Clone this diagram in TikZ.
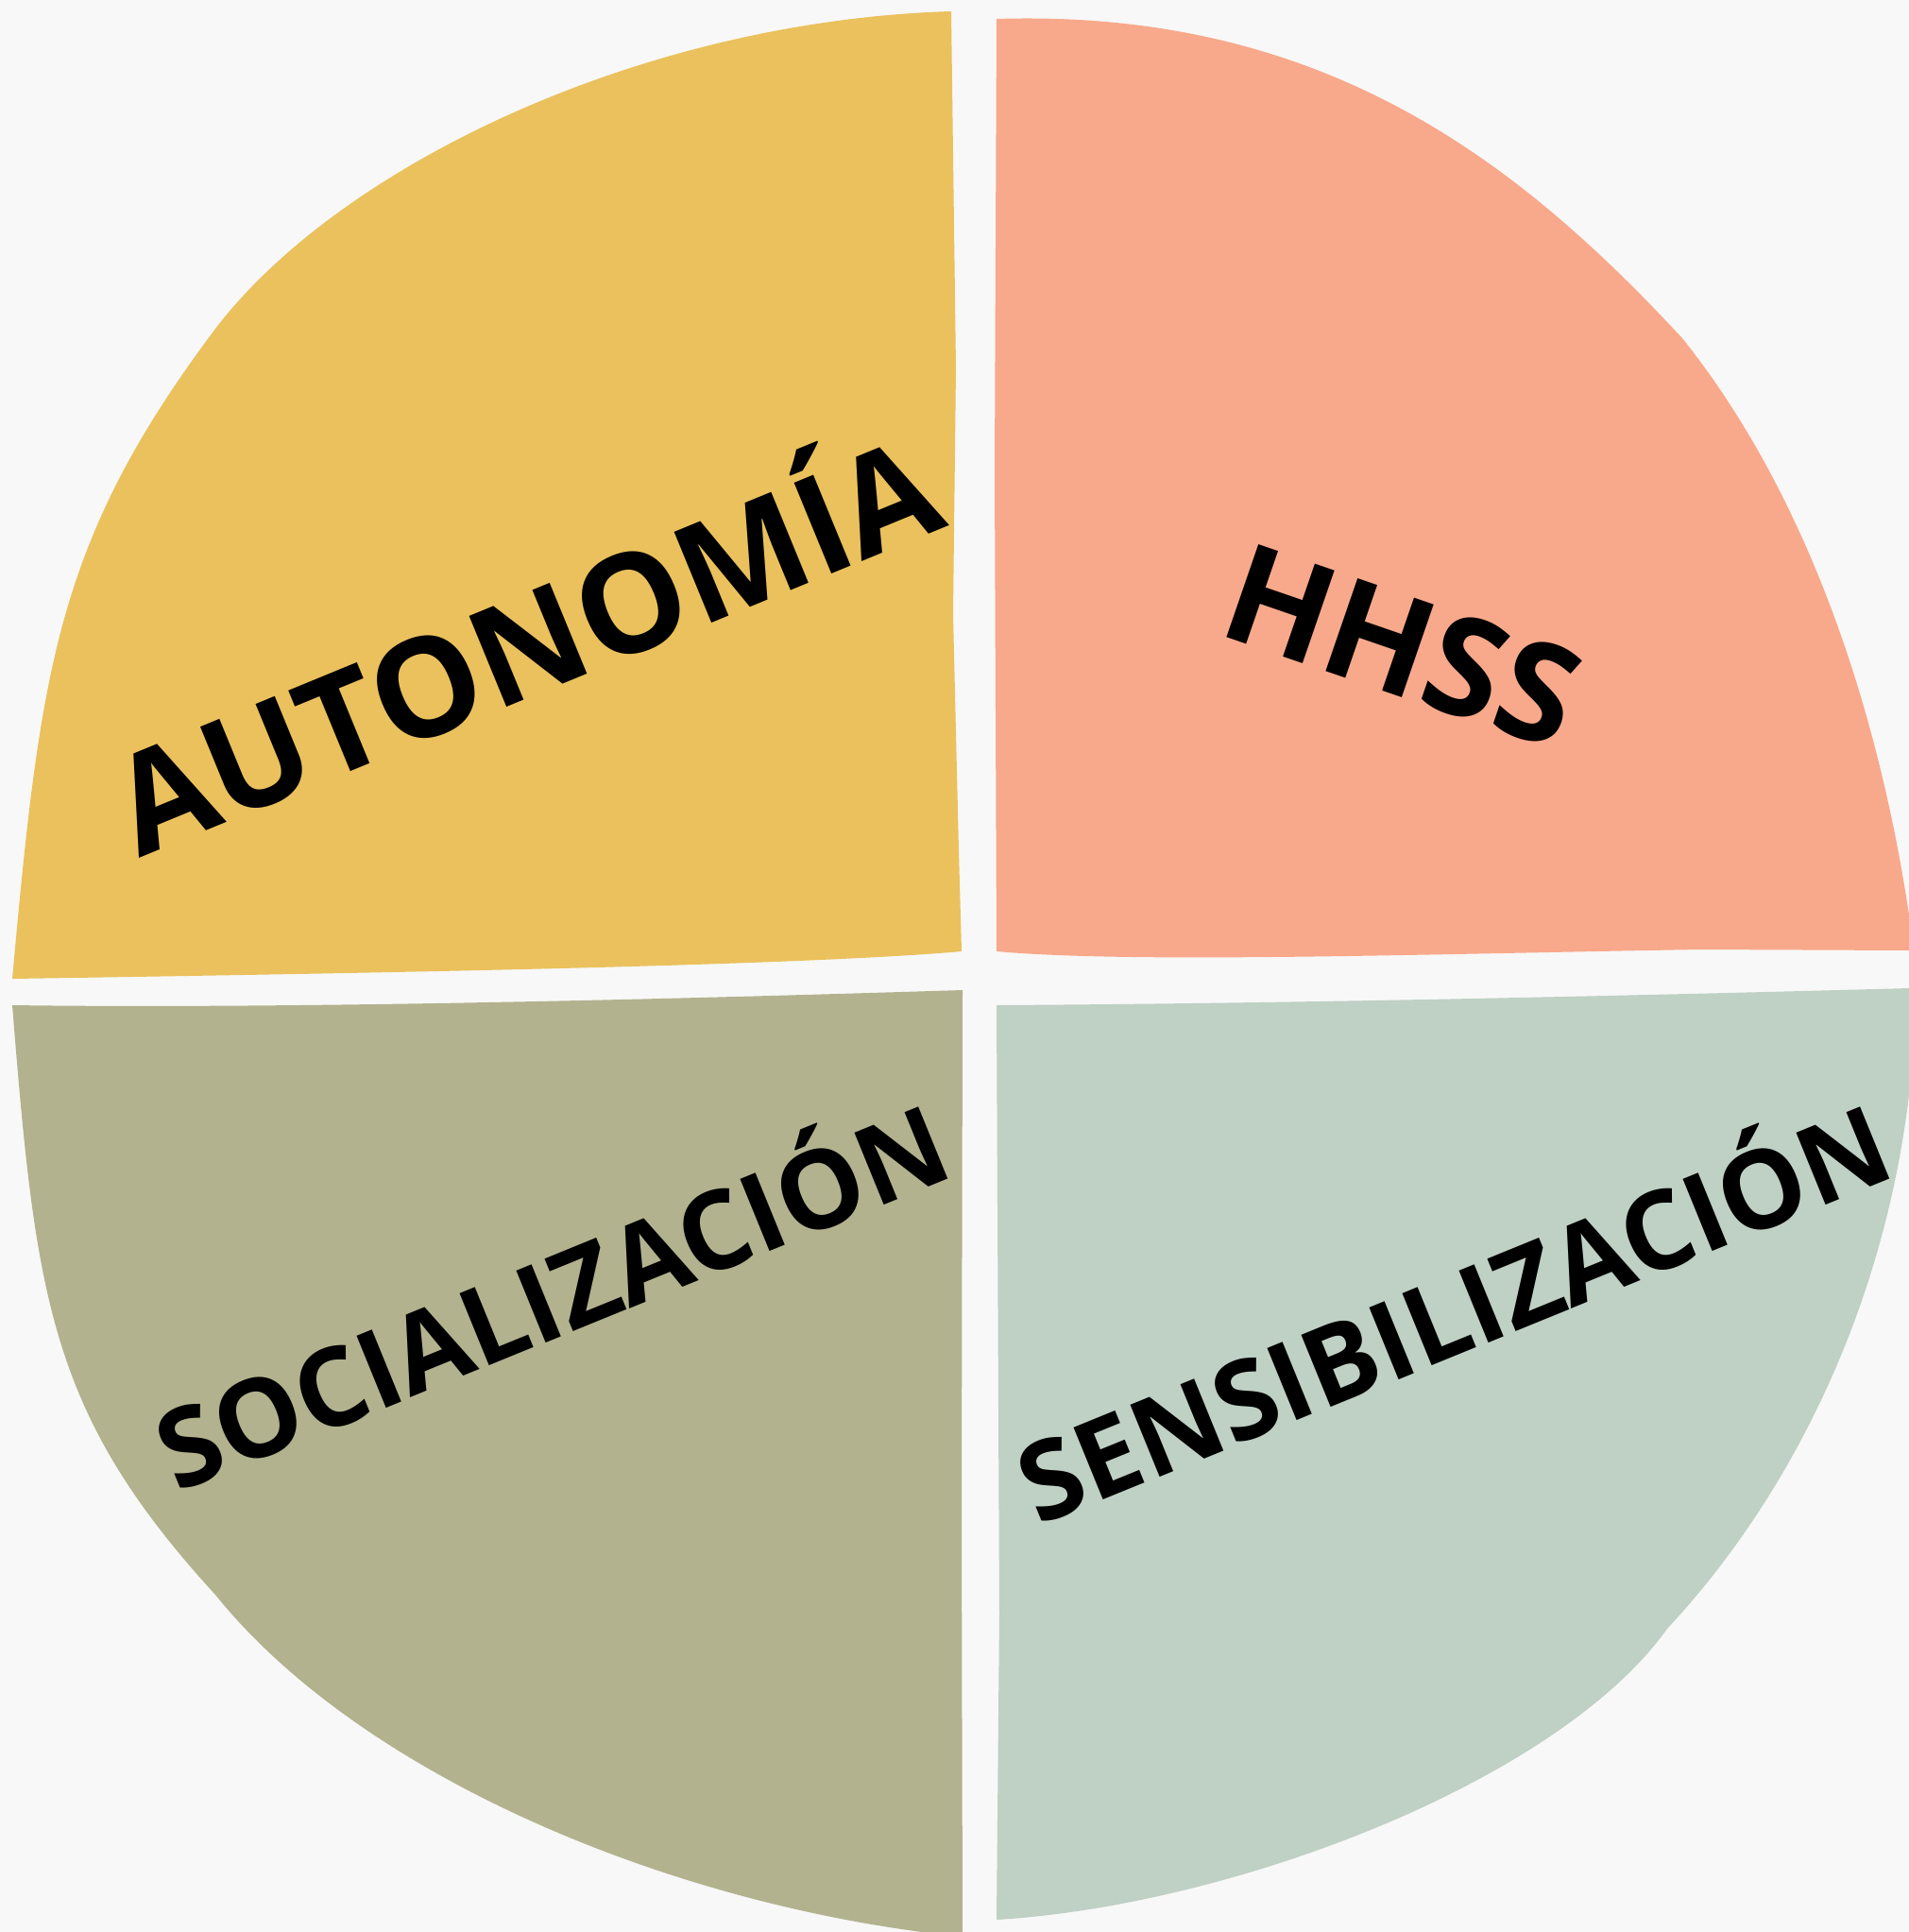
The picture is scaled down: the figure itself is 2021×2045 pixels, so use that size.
\documentclass[tikz,border=0pt]{standalone}
\usepackage{fontspec}
\newfontfamily\wordfont{Open Sans}
\definecolor{paper}{RGB}{248,248,248}
\definecolor{autoyellow}{RGB}{234,193,93}
\definecolor{hhsssalmon}{RGB}{248,169,139}
\definecolor{socolive}{RGB}{178,178,143}
\definecolor{senssage}{RGB}{191,208,197}

\begin{document}
\begin{tikzpicture}[
  x=0.01cm, y=-0.01cm,
  bigword/.style={font=\wordfont\bfseries\fontsize{41.4}{48}\selectfont,
                  inner sep=0pt, anchor=base west},
  smallword/.style={font=\wordfont\bfseries\fontsize{32.8}{38}\selectfont,
                    inner sep=0pt, anchor=base west}
]
  \useasboundingbox (0,0) rectangle (2021,2045);
  \fill[paper] (0,0) rectangle (2021,2045);

  % quadrants
  \fill[autoyellow] (1007,12) .. controls (680,22) and (360,175) .. (228,348)
    .. controls (60,572) and (43,706) .. (13,1036)
    .. controls (400,1030) and (850,1022) .. (1018,1007)
    -- (1015,900) -- (1009,650) -- (1012,390) -- cycle;
  \fill[hhsssalmon] (1055,20) .. controls (1405,9) and (1611,175) .. (1781,358)
    .. controls (1924,537) and (1993,777) .. (2022,975) -- (2022,1006)
    -- (1800,1005) .. controls (1500,1010) and (1200,1020) .. (1055,1007)
    -- (1053,500) -- cycle;
  \fill[socolive] (13,1064) .. controls (300,1068) and (700,1058) .. (1019,1048)
    -- (1018,1600) -- (1019,2050)
    .. controls (719,2020) and (385,1883) .. (228,1688)
    .. controls (52,1496) and (38,1374) .. (13,1064) -- cycle;
  \fill[senssage] (1055,1064) .. controls (1400,1062) and (1800,1052) .. (2022,1046)
    -- (2021,1159) .. controls (1995,1377) and (1901,1578) .. (1765,1724)
    .. controls (1649,1886) and (1305,2017) .. (1055,2032)
    -- (1058,1708) -- cycle;

  % labels
  \node[bigword, rotate=22.35]   (autonomia) at (147,909)  {AUTONOMÍA};
  \node[bigword, rotate=-19]     (hhss)      at (1286,670) {HHSS};
  \node[smallword, rotate=22.2]  (social)    at (187,1581) {SOCIALIZACIÓN};
  \node[smallword, rotate=22.2]  (sensib)    at (1099,1616) {SENSIBILIZACIÓN};
\end{tikzpicture}
\end{document}
